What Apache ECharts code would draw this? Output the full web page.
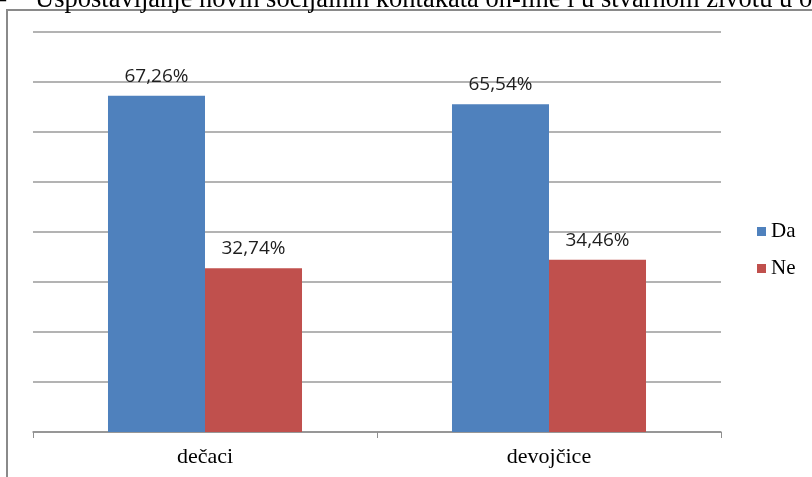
<!DOCTYPE html>
<html>
<head>
<meta charset="utf-8">
<script src="https://cdn.jsdelivr.net/npm/echarts@6/dist/echarts.min.js"></script>
<style>html,body{margin:0;padding:0;background:#fff}#c{width:812px;height:477px}</style>
</head>
<body>
<div id="c"></div>
<script>
var categories = ['dečaci', 'devojčice'];
var daValues = [67.26, 65.54];
var neValues = [32.74, 34.46];
var seriesNames = ['Da', 'Ne'];
var titleText = 'Uspostavljanje novih socijalnih kontakata on-line i u stvarnom životu u odnosu na pol';

var chart = echarts.init(document.getElementById('c'));
function fmt(p){ return p.value.toFixed(2).replace('.', ',') + '%'; }
var labelCfg = {show:true, position:'top', distance:10, formatter:fmt, fontFamily:'Open Sans, Noto Sans, sans-serif', fontSize:19, color:'#1e1e1e'};
chart.setOption({
  animation:false,
  graphic:[
    {type:'rect', shape:{x:7, y:10, width:820, height:480}, style:{fill:'none', stroke:'#8a8a8a', lineWidth:2}, z:-1},
    {type:'text', x:35, y:14, style:{text:titleText, font:'26.5px "Liberation Serif", serif', fill:'#000', verticalAlign:'bottom'}},
    {type:'text', x:6, y:14, style:{text:'Grafikon 2 –', font:'26.5px "Liberation Serif", serif', fill:'#000', align:'right', verticalAlign:'bottom'}}
  ],
  grid:{left:33, right:91, top:32, bottom:45},
  legend:{
    orient:'vertical', left:752, top:216, itemWidth:9, itemHeight:9, itemGap:16, icon:'rect',
    data:seriesNames,
    textStyle:{fontFamily:'Liberation Serif, serif', fontSize:21, color:'#000'}
  },
  xAxis:{
    type:'category', data:categories,
    axisLine:{lineStyle:{color:'#8f8f8f', width:1.5}},
    axisTick:{show:true, length:6, lineStyle:{color:'#8f8f8f'}},
    axisLabel:{fontFamily:'Liberation Serif, serif', fontSize:22, color:'#000', margin:14}
  },
  yAxis:{
    type:'value', min:0, max:80, interval:10,
    axisLabel:{show:false}, axisLine:{show:false}, axisTick:{show:false},
    splitLine:{lineStyle:{color:'#9a9a9a', width:1.5}}
  },
  series:[
    {name:seriesNames[0], type:'bar', data:daValues, barWidth:'28.2%', barGap:'0%', itemStyle:{color:'#4F81BD'}, label:labelCfg},
    {name:seriesNames[1], type:'bar', data:neValues, barWidth:'28.2%', barGap:'0%', itemStyle:{color:'#C0504D'}, label:labelCfg}
  ]
});
</script>
</body>
</html>
